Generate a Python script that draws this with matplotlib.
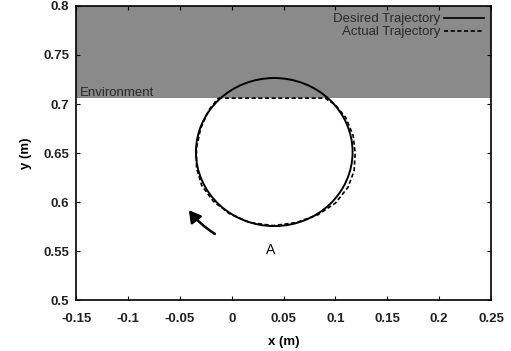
import matplotlib
matplotlib.use("Agg")
import matplotlib.pyplot as plt
from matplotlib.patches import Circle, FancyArrowPatch

# --- data ---
env_y = 0.706                 # lower edge of the environment (wall)
desired_center = (0.041, 0.651)
desired_radius = 0.0755

# actual trajectory, clockwise starting at the flat top
actual_x = [-0.013, 0.010, 0.040, 0.065, 0.090, 0.100, 0.110, 0.117, 0.119,
            0.118, 0.112, 0.100, 0.083, 0.062, 0.040, 0.018, -0.002, -0.018,
            -0.029, -0.034, -0.034, -0.030, -0.022, -0.013]
actual_y = [0.706, 0.706, 0.706, 0.706, 0.706, 0.699, 0.686, 0.668, 0.650,
            0.632, 0.615, 0.599, 0.587, 0.579, 0.576, 0.579, 0.588, 0.601,
            0.617, 0.635, 0.655, 0.675, 0.694, 0.706]

arrow_tail = (-0.014, 0.566)
arrow_head = (-0.043, 0.594)
label_a = (0.037, 0.551)

plt.rcParams['font.family'] = ['Liberation Sans', 'DejaVu Sans']

fig = plt.figure(figsize=(5.11, 3.51), dpi=100)
ax = fig.add_axes([0.149, 0.145, 0.812, 0.838])

ax.axhspan(env_y, 0.8, color='#8a8a8a', zorder=0, lw=0)
ax.text(-0.146, env_y + 0.0025, 'Environment', fontsize=9.5, color='#2a2a2a')

ax.add_patch(Circle(desired_center, desired_radius, fill=False,
                    ec='black', lw=1.4, zorder=3))
ax.plot([], [], color='black', lw=1.2, label='Desired Trajectory')
ax.plot(actual_x, actual_y, color='black', lw=1.2, ls=(0, (2.5, 1.5)),
        label='Actual Trajectory', zorder=4)

ax.add_patch(FancyArrowPatch(arrow_tail, arrow_head,
                             connectionstyle='arc3,rad=-0.1',
                             arrowstyle='-|>,head_length=7,head_width=4',
                             color='black', lw=1.8, zorder=5))
ax.text(label_a[0], label_a[1], 'A', fontsize=10, ha='center', va='center')

ax.set_xlim(-0.15, 0.25)
ax.set_ylim(0.5, 0.8)
ax.set_xticks([-0.15, -0.1, -0.05, 0, 0.05, 0.1, 0.15, 0.2, 0.25])
ax.set_xticklabels(['-0.15', '-0.1', '-0.05', '0', '0.05', '0.1', '0.15', '0.2', '0.25'])
ax.set_yticks([0.5, 0.55, 0.6, 0.65, 0.7, 0.75, 0.8])
ax.set_yticklabels(['0.5', '0.55', '0.6', '0.65', '0.7', '0.75', '0.8'])
ax.tick_params(direction='in', top=True, right=True, length=3, width=0.8,
               labelsize=9.5)
ax.tick_params(axis='x', pad=9)
ax.tick_params(axis='y', pad=5)
for lab in ax.get_xticklabels() + ax.get_yticklabels():
    lab.set_fontweight('bold')
    lab.set_color('#222222')
for s in ax.spines.values():
    s.set_linewidth(1.2)

ax.set_xlabel('x (m)', fontsize=9.5, fontweight='bold', labelpad=8)
ax.set_ylabel('y (m)', fontsize=9.5, fontweight='bold', labelpad=8)

ax.legend(loc='upper right', frameon=False, markerfirst=False, fontsize=9.5,
          handlelength=3.0, handletextpad=0.3, labelspacing=0.05,
          borderaxespad=0.15, labelcolor='#2a2a2a')

fig.savefig('out.png', dpi=100)
